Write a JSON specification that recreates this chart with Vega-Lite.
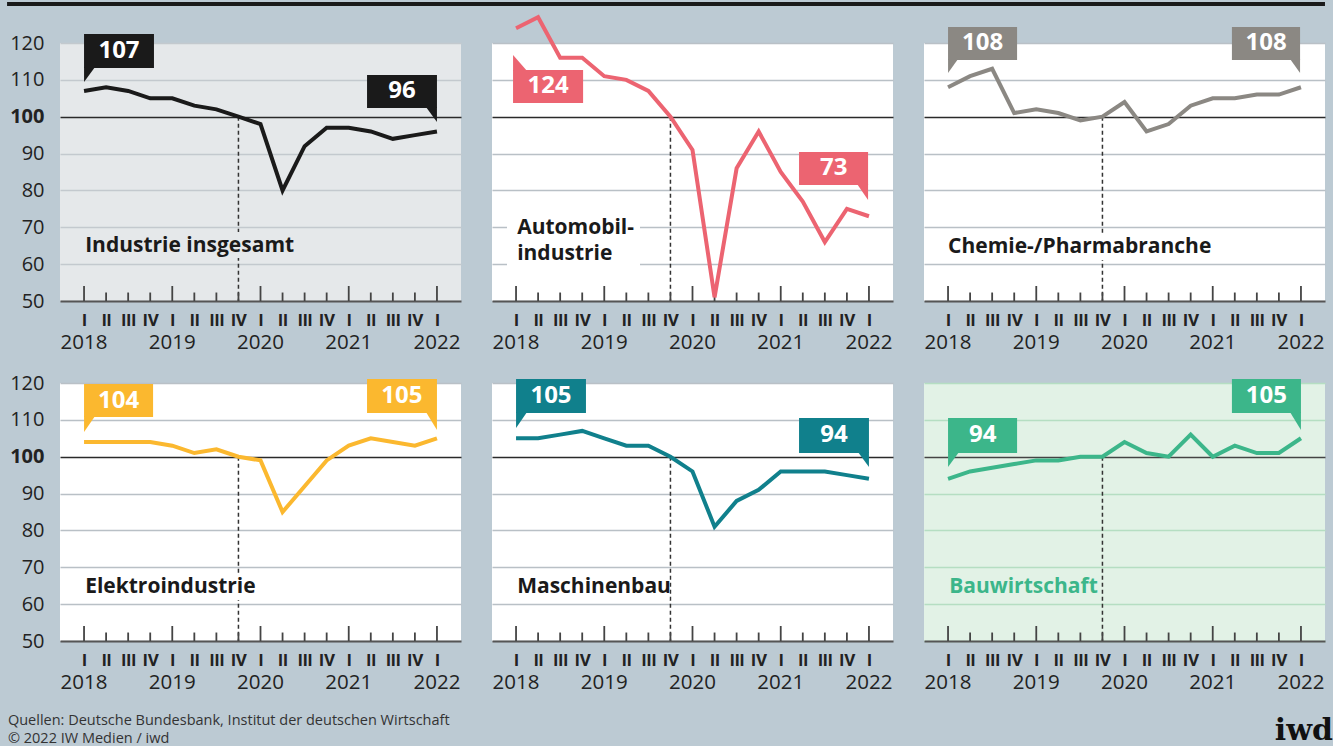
{
"$schema": "https://vega.github.io/schema/vega-lite/v6.json",
"background": "#bccad3",
"padding": {"left": 5, "top": 2, "right": 0, "bottom": 0},
"config": {"view": {"stroke": null}, "text": {"font": "Open Sans"}},
"datasets": {
"vals": [
{"s":"ind","i":0,"v":107},{"s":"ind","i":1,"v":108},{"s":"ind","i":2,"v":107},{"s":"ind","i":3,"v":105},{"s":"ind","i":4,"v":105},{"s":"ind","i":5,"v":103},{"s":"ind","i":6,"v":102},{"s":"ind","i":7,"v":100},{"s":"ind","i":8,"v":98},{"s":"ind","i":9,"v":80},{"s":"ind","i":10,"v":92},{"s":"ind","i":11,"v":97},{"s":"ind","i":12,"v":97},{"s":"ind","i":13,"v":96},{"s":"ind","i":14,"v":94},{"s":"ind","i":15,"v":95},{"s":"ind","i":16,"v":96},
{"s":"auto","i":0,"v":124},{"s":"auto","i":1,"v":127},{"s":"auto","i":2,"v":116},{"s":"auto","i":3,"v":116},{"s":"auto","i":4,"v":111},{"s":"auto","i":5,"v":110},{"s":"auto","i":6,"v":107},{"s":"auto","i":7,"v":100},{"s":"auto","i":8,"v":91},{"s":"auto","i":9,"v":51},{"s":"auto","i":10,"v":86},{"s":"auto","i":11,"v":96},{"s":"auto","i":12,"v":85},{"s":"auto","i":13,"v":77},{"s":"auto","i":14,"v":66},{"s":"auto","i":15,"v":75},{"s":"auto","i":16,"v":73},
{"s":"chem","i":0,"v":108},{"s":"chem","i":1,"v":111},{"s":"chem","i":2,"v":113},{"s":"chem","i":3,"v":101},{"s":"chem","i":4,"v":102},{"s":"chem","i":5,"v":101},{"s":"chem","i":6,"v":99},{"s":"chem","i":7,"v":100},{"s":"chem","i":8,"v":104},{"s":"chem","i":9,"v":96},{"s":"chem","i":10,"v":98},{"s":"chem","i":11,"v":103},{"s":"chem","i":12,"v":105},{"s":"chem","i":13,"v":105},{"s":"chem","i":14,"v":106},{"s":"chem","i":15,"v":106},{"s":"chem","i":16,"v":108},
{"s":"elek","i":0,"v":104},{"s":"elek","i":1,"v":104},{"s":"elek","i":2,"v":104},{"s":"elek","i":3,"v":104},{"s":"elek","i":4,"v":103},{"s":"elek","i":5,"v":101},{"s":"elek","i":6,"v":102},{"s":"elek","i":7,"v":100},{"s":"elek","i":8,"v":99},{"s":"elek","i":9,"v":85},{"s":"elek","i":10,"v":92},{"s":"elek","i":11,"v":99},{"s":"elek","i":12,"v":103},{"s":"elek","i":13,"v":105},{"s":"elek","i":14,"v":104},{"s":"elek","i":15,"v":103},{"s":"elek","i":16,"v":105},
{"s":"masch","i":0,"v":105},{"s":"masch","i":1,"v":105},{"s":"masch","i":2,"v":106},{"s":"masch","i":3,"v":107},{"s":"masch","i":4,"v":105},{"s":"masch","i":5,"v":103},{"s":"masch","i":6,"v":103},{"s":"masch","i":7,"v":100},{"s":"masch","i":8,"v":96},{"s":"masch","i":9,"v":81},{"s":"masch","i":10,"v":88},{"s":"masch","i":11,"v":91},{"s":"masch","i":12,"v":96},{"s":"masch","i":13,"v":96},{"s":"masch","i":14,"v":96},{"s":"masch","i":15,"v":95},{"s":"masch","i":16,"v":94},
{"s":"bau","i":0,"v":94},{"s":"bau","i":1,"v":96},{"s":"bau","i":2,"v":97},{"s":"bau","i":3,"v":98},{"s":"bau","i":4,"v":99},{"s":"bau","i":5,"v":99},{"s":"bau","i":6,"v":100},{"s":"bau","i":7,"v":100},{"s":"bau","i":8,"v":104},{"s":"bau","i":9,"v":101},{"s":"bau","i":10,"v":100},{"s":"bau","i":11,"v":106},{"s":"bau","i":12,"v":100},{"s":"bau","i":13,"v":103},{"s":"bau","i":14,"v":101},{"s":"bau","i":15,"v":101},{"s":"bau","i":16,"v":105}
],
"qtr": [
{"i":0,"q":"I","year":"2018"},{"i":1,"q":"II","year":"2018"},{"i":2,"q":"III","year":"2018"},{"i":3,"q":"IV","year":"2018"},
{"i":4,"q":"I","year":"2019"},{"i":5,"q":"II","year":"2019"},{"i":6,"q":"III","year":"2019"},{"i":7,"q":"IV","year":"2019"},
{"i":8,"q":"I","year":"2020"},{"i":9,"q":"II","year":"2020"},{"i":10,"q":"III","year":"2020"},{"i":11,"q":"IV","year":"2020"},
{"i":12,"q":"I","year":"2021"},{"i":13,"q":"II","year":"2021"},{"i":14,"q":"III","year":"2021"},{"i":15,"q":"IV","year":"2021"},
{"i":16,"q":"I","year":"2022"}
]
},
"columns": 3,
"spacing": {"row": 82, "column": 31},
"bounds": "flush",
"concat": [
{
"width": 401, "height": 258,
"view": {"fill": "#e5e8ea", "stroke": null},
"resolve": {"axis": {"x": "independent", "y": "independent"}},
"layer": [
{"data": {"values": [{}]}, "mark": {"type": "rule", "color": "#1a1a1a", "strokeWidth": 4}, "encoding": {"x": {"datum": -3.49, "type": "quantitative", "axis": null}, "x2": {"datum": 56.26}, "y": {"datum": 130.58, "type": "quantitative", "axis": null}}},
{"data": {"values": [{}]}, "mark": {"type": "rule", "color": "#333", "strokeWidth": 1.5, "strokeDash": [4, 3]}, "encoding": {"x": {"datum": 7, "type": "quantitative", "axis": null}, "y": {"datum": 100, "type": "quantitative", "axis": null}, "y2": {"datum": 50}}},
{"data": {"values": [{}]}, "mark": {"type": "rect", "color": "#e5e8ea"}, "encoding": {"x": {"datum": -0.27, "type": "quantitative", "axis": null}, "x2": {"datum": 9.8}, "y": {"datum": 68.72, "type": "quantitative", "axis": null}, "y2": {"datum": 61.67}}},
{"data": {"values": [{}]}, "mark": {"type": "text", "text": "Industrie insgesamt", "align": "left", "baseline": "middle", "font": "Open Sans", "fontSize": 21, "fontWeight": "bold", "color": "#1a1a1a"}, "encoding": {"x": {"datum": 0.05, "type": "quantitative", "axis": null}, "y": {"datum": 65, "type": "quantitative", "axis": null}}},
{"data": {"name": "qtr"}, "transform": [{"filter": "datum.q === 'I'"}], "mark": {"type": "rule", "color": "#444", "strokeWidth": 1.8}, "encoding": {"x": {"field": "i", "type": "quantitative", "axis": null}, "y": {"datum": 50, "type": "quantitative", "axis": null}, "y2": {"datum": 54.07}}},
{"data": {"name": "qtr"}, "transform": [{"filter": "datum.q !== 'I'"}], "mark": {"type": "rule", "color": "#444", "strokeWidth": 1.8}, "encoding": {"x": {"field": "i", "type": "quantitative", "axis": null}, "y": {"datum": 50, "type": "quantitative", "axis": null}, "y2": {"datum": 52.3}}},
{"data": {"name": "vals"}, "transform": [{"filter": "datum.s === 'ind'"}], "mark": {"type": "line", "color": "#1a1a1a", "strokeWidth": 4, "strokeJoin": "miter"},
 "encoding": {
  "x": {"field": "i", "type": "quantitative", "scale": {"domain": [-1.09, 17.09], "nice": false, "zero": false}, "axis": {"orient": "bottom", "values": [0,1,2,3,4,5,6,7,8,9,10,11,12,13,14,15,16], "labelExpr": "['I','II','III','IV'][datum.value % 4]", "labelFont": "Roboto", "labelFontSize": 17, "labelFontWeight": "bold", "labelColor": "#222", "labelPadding": 19, "labelBaseline": "middle", "labelFlush": false, "labelOverlap": false, "labelBound": false, "ticks": false, "tickSize": 0, "grid": false, "domain": true, "domainColor": "#555", "domainWidth": 2, "title": null}},
  "y": {"field": "v", "type": "quantitative", "scale": {"domain": [50, 120], "nice": false, "zero": false}, "axis": {"orient": "left", "values": [50,60,70,80,90,100,110,120], "grid": true, "gridColor": {"condition": {"test": "datum.value === 100", "value": "#2a2a2a"}, "value": "#c3c9ce"}, "gridWidth": 1.5, "domain": false, "ticks": false, "tickSize": 0, "labels": true, "labelFont": "Open Sans", "labelFontSize": 20, "labelColor": "#222", "labelPadding": 16, "labelFontWeight": {"condition": {"test": "datum.value === 100", "value": "bold"}, "value": "normal"}, "title": null}}
 }},
{"data": {"values": [{}]}, "mark": {"type": "rect", "color": "#1a1a1a"}, "encoding": {"x": {"datum": 0, "type": "quantitative", "axis": null}, "x2": {"datum": 3.17}, "y": {"datum": 122.44, "type": "quantitative", "axis": null}, "y2": {"datum": 113.22}}},
{"data": {"values": [{}]}, "mark": {"type": "point", "shape": "M0,-1L0,14L11,-1Z", "size": 4, "filled": true, "opacity": 1, "color": "#1a1a1a"}, "encoding": {"x": {"datum": 0, "type": "quantitative", "axis": null}, "y": {"datum": 113.22, "type": "quantitative", "axis": null}}},
{"data": {"values": [{}]}, "mark": {"type": "text", "text": "107", "font": "Open Sans", "fontSize": 24, "fontWeight": "bold", "color": "#ffffff", "align": "center", "baseline": "middle"}, "encoding": {"x": {"datum": 1.585, "type": "quantitative", "axis": null}, "y": {"datum": 117.83, "type": "quantitative", "axis": null}}},
{"data": {"values": [{}]}, "mark": {"type": "rect", "color": "#1a1a1a"}, "encoding": {"x": {"datum": 12.83, "type": "quantitative", "axis": null}, "x2": {"datum": 16}, "y": {"datum": 111.32, "type": "quantitative", "axis": null}, "y2": {"datum": 102.37}}},
{"data": {"values": [{}]}, "mark": {"type": "point", "shape": "M0,-1L0,14L-11,-1Z", "size": 4, "filled": true, "opacity": 1, "color": "#1a1a1a"}, "encoding": {"x": {"datum": 16, "type": "quantitative", "axis": null}, "y": {"datum": 102.37, "type": "quantitative", "axis": null}}},
{"data": {"values": [{}]}, "mark": {"type": "text", "text": "96", "font": "Open Sans", "fontSize": 24, "fontWeight": "bold", "color": "#ffffff", "align": "center", "baseline": "middle"}, "encoding": {"x": {"datum": 14.41, "type": "quantitative", "axis": null}, "y": {"datum": 106.85, "type": "quantitative", "axis": null}}},
{"data": {"name": "qtr"}, "transform": [{"filter": "datum.q === 'I'"}], "mark": {"type": "text", "dy": 42, "font": "Open Sans", "fontSize": 20.5, "color": "#222", "align": "center", "baseline": "middle"}, "encoding": {"x": {"field": "i", "type": "quantitative", "axis": null}, "y": {"datum": 50, "type": "quantitative", "axis": null}, "text": {"field": "year"}}}
]
},
{
"width": 401, "height": 258,
"view": {"fill": "#ffffff", "stroke": null},
"resolve": {"axis": {"x": "independent", "y": "independent"}},
"layer": [
{"data": {"values": [{}]}, "mark": {"type": "rule", "color": "#333", "strokeWidth": 1.5, "strokeDash": [4, 3]}, "encoding": {"x": {"datum": 7, "type": "quantitative", "axis": null}, "y": {"datum": 100, "type": "quantitative", "axis": null}, "y2": {"datum": 50}}},
{"data": {"values": [{}]}, "mark": {"type": "rect", "color": "#ffffff"}, "encoding": {"x": {"datum": -0.41, "type": "quantitative", "axis": null}, "x2": {"datum": 5.62}, "y": {"datum": 73.34, "type": "quantitative", "axis": null}, "y2": {"datum": 58.96}}},
{"data": {"values": [{}]}, "mark": {"type": "text", "text": ["Automobil-", "industrie"], "lineHeight": 26, "align": "left", "baseline": "middle", "font": "Open Sans", "fontSize": 21, "fontWeight": "bold", "color": "#1a1a1a"}, "encoding": {"x": {"datum": 0.05, "type": "quantitative", "axis": null}, "y": {"datum": 69.81, "type": "quantitative", "axis": null}}},
{"data": {"name": "qtr"}, "transform": [{"filter": "datum.q === 'I'"}], "mark": {"type": "rule", "color": "#444", "strokeWidth": 1.8}, "encoding": {"x": {"field": "i", "type": "quantitative", "axis": null}, "y": {"datum": 50, "type": "quantitative", "axis": null}, "y2": {"datum": 54.07}}},
{"data": {"name": "qtr"}, "transform": [{"filter": "datum.q !== 'I'"}], "mark": {"type": "rule", "color": "#444", "strokeWidth": 1.8}, "encoding": {"x": {"field": "i", "type": "quantitative", "axis": null}, "y": {"datum": 50, "type": "quantitative", "axis": null}, "y2": {"datum": 52.3}}},
{"data": {"name": "vals"}, "transform": [{"filter": "datum.s === 'auto'"}], "mark": {"type": "line", "color": "#ec6471", "strokeWidth": 4, "strokeJoin": "miter"},
 "encoding": {
  "x": {"field": "i", "type": "quantitative", "scale": {"domain": [-1.09, 17.09], "nice": false, "zero": false}, "axis": {"orient": "bottom", "values": [0,1,2,3,4,5,6,7,8,9,10,11,12,13,14,15,16], "labelExpr": "['I','II','III','IV'][datum.value % 4]", "labelFont": "Roboto", "labelFontSize": 17, "labelFontWeight": "bold", "labelColor": "#222", "labelPadding": 19, "labelBaseline": "middle", "labelFlush": false, "labelOverlap": false, "labelBound": false, "ticks": false, "tickSize": 0, "grid": false, "domain": true, "domainColor": "#555", "domainWidth": 2, "title": null}},
  "y": {"field": "v", "type": "quantitative", "scale": {"domain": [50, 120], "nice": false, "zero": false}, "axis": {"orient": "left", "values": [50,60,70,80,90,100,110,120], "grid": true, "gridColor": {"condition": {"test": "datum.value === 100", "value": "#2a2a2a"}, "value": "#b9c0c6"}, "gridWidth": 1.5, "domain": false, "ticks": false, "tickSize": 0, "labels": false, "title": null}}
 }},
{"data": {"values": [{}]}, "mark": {"type": "rect", "color": "#ec6471"}, "encoding": {"x": {"datum": -0.136, "type": "quantitative", "axis": null}, "x2": {"datum": 3.04}, "y": {"datum": 112.67, "type": "quantitative", "axis": null}, "y2": {"datum": 103.72}}},
{"data": {"values": [{}]}, "mark": {"type": "point", "shape": "M0,1L0,-15L14,1Z", "size": 4, "filled": true, "opacity": 1, "color": "#ec6471"}, "encoding": {"x": {"datum": -0.136, "type": "quantitative", "axis": null}, "y": {"datum": 112.67, "type": "quantitative", "axis": null}}},
{"data": {"values": [{}]}, "mark": {"type": "text", "text": "124", "font": "Open Sans", "fontSize": 24, "fontWeight": "bold", "color": "#ffffff", "align": "center", "baseline": "middle"}, "encoding": {"x": {"datum": 1.45, "type": "quantitative", "axis": null}, "y": {"datum": 108.2, "type": "quantitative", "axis": null}}},
{"data": {"values": [{}]}, "mark": {"type": "rect", "color": "#ec6471"}, "encoding": {"x": {"datum": 12.83, "type": "quantitative", "axis": null}, "x2": {"datum": 15.96}, "y": {"datum": 90.43, "type": "quantitative", "axis": null}, "y2": {"datum": 81.48}}},
{"data": {"values": [{}]}, "mark": {"type": "point", "shape": "M0,-1L0,15L-11,-1Z", "size": 4, "filled": true, "opacity": 1, "color": "#ec6471"}, "encoding": {"x": {"datum": 15.96, "type": "quantitative", "axis": null}, "y": {"datum": 81.48, "type": "quantitative", "axis": null}}},
{"data": {"values": [{}]}, "mark": {"type": "text", "text": "73", "font": "Open Sans", "fontSize": 24, "fontWeight": "bold", "color": "#ffffff", "align": "center", "baseline": "middle"}, "encoding": {"x": {"datum": 14.4, "type": "quantitative", "axis": null}, "y": {"datum": 85.96, "type": "quantitative", "axis": null}}},
{"data": {"name": "qtr"}, "transform": [{"filter": "datum.q === 'I'"}], "mark": {"type": "text", "dy": 42, "font": "Open Sans", "fontSize": 20.5, "color": "#222", "align": "center", "baseline": "middle"}, "encoding": {"x": {"field": "i", "type": "quantitative", "axis": null}, "y": {"datum": 50, "type": "quantitative", "axis": null}, "text": {"field": "year"}}}
]
},
{
"width": 401, "height": 258,
"view": {"fill": "#ffffff", "stroke": null},
"resolve": {"axis": {"x": "independent", "y": "independent"}},
"layer": [
{"data": {"values": [{}]}, "mark": {"type": "rule", "color": "#333", "strokeWidth": 1.5, "strokeDash": [4, 3]}, "encoding": {"x": {"datum": 7, "type": "quantitative", "axis": null}, "y": {"datum": 100, "type": "quantitative", "axis": null}, "y2": {"datum": 50}}},
{"data": {"values": [{}]}, "mark": {"type": "rect", "color": "#ffffff"}, "encoding": {"x": {"datum": -0.27, "type": "quantitative", "axis": null}, "x2": {"datum": 12.6}, "y": {"datum": 68.18, "type": "quantitative", "axis": null}, "y2": {"datum": 61.13}}},
{"data": {"values": [{}]}, "mark": {"type": "text", "text": "Chemie-/Pharmabranche", "align": "left", "baseline": "middle", "font": "Open Sans", "fontSize": 21, "fontWeight": "bold", "color": "#1a1a1a"}, "encoding": {"x": {"datum": 0, "type": "quantitative", "axis": null}, "y": {"datum": 64.66, "type": "quantitative", "axis": null}}},
{"data": {"name": "qtr"}, "transform": [{"filter": "datum.q === 'I'"}], "mark": {"type": "rule", "color": "#444", "strokeWidth": 1.8}, "encoding": {"x": {"field": "i", "type": "quantitative", "axis": null}, "y": {"datum": 50, "type": "quantitative", "axis": null}, "y2": {"datum": 54.07}}},
{"data": {"name": "qtr"}, "transform": [{"filter": "datum.q !== 'I'"}], "mark": {"type": "rule", "color": "#444", "strokeWidth": 1.8}, "encoding": {"x": {"field": "i", "type": "quantitative", "axis": null}, "y": {"datum": 50, "type": "quantitative", "axis": null}, "y2": {"datum": 52.3}}},
{"data": {"name": "vals"}, "transform": [{"filter": "datum.s === 'chem'"}], "mark": {"type": "line", "color": "#8b8883", "strokeWidth": 4, "strokeJoin": "miter"},
 "encoding": {
  "x": {"field": "i", "type": "quantitative", "scale": {"domain": [-1.09, 17.09], "nice": false, "zero": false}, "axis": {"orient": "bottom", "values": [0,1,2,3,4,5,6,7,8,9,10,11,12,13,14,15,16], "labelExpr": "['I','II','III','IV'][datum.value % 4]", "labelFont": "Roboto", "labelFontSize": 17, "labelFontWeight": "bold", "labelColor": "#222", "labelPadding": 19, "labelBaseline": "middle", "labelFlush": false, "labelOverlap": false, "labelBound": false, "ticks": false, "tickSize": 0, "grid": false, "domain": true, "domainColor": "#555", "domainWidth": 2, "title": null}},
  "y": {"field": "v", "type": "quantitative", "scale": {"domain": [50, 120], "nice": false, "zero": false}, "axis": {"orient": "left", "values": [50,60,70,80,90,100,110,120], "grid": true, "gridColor": {"condition": {"test": "datum.value === 100", "value": "#2a2a2a"}, "value": "#b9c0c6"}, "gridWidth": 1.5, "domain": false, "ticks": false, "tickSize": 0, "labels": false, "title": null}}
 }},
{"data": {"values": [{}]}, "mark": {"type": "rect", "color": "#8b8883"}, "encoding": {"x": {"datum": 0, "type": "quantitative", "axis": null}, "x2": {"datum": 3.13}, "y": {"datum": 124.34, "type": "quantitative", "axis": null}, "y2": {"datum": 115.39}}},
{"data": {"values": [{}]}, "mark": {"type": "point", "shape": "M0,-1L0,13L10,-1Z", "size": 4, "filled": true, "opacity": 1, "color": "#8b8883"}, "encoding": {"x": {"datum": 0, "type": "quantitative", "axis": null}, "y": {"datum": 115.39, "type": "quantitative", "axis": null}}},
{"data": {"values": [{}]}, "mark": {"type": "text", "text": "108", "font": "Open Sans", "fontSize": 24, "fontWeight": "bold", "color": "#ffffff", "align": "center", "baseline": "middle"}, "encoding": {"x": {"datum": 1.57, "type": "quantitative", "axis": null}, "y": {"datum": 119.87, "type": "quantitative", "axis": null}}},
{"data": {"values": [{}]}, "mark": {"type": "rect", "color": "#8b8883"}, "encoding": {"x": {"datum": 12.87, "type": "quantitative", "axis": null}, "x2": {"datum": 15.96}, "y": {"datum": 124.34, "type": "quantitative", "axis": null}, "y2": {"datum": 115.39}}},
{"data": {"values": [{}]}, "mark": {"type": "point", "shape": "M0,-1L0,13L-10,-1Z", "size": 4, "filled": true, "opacity": 1, "color": "#8b8883"}, "encoding": {"x": {"datum": 15.96, "type": "quantitative", "axis": null}, "y": {"datum": 115.39, "type": "quantitative", "axis": null}}},
{"data": {"values": [{}]}, "mark": {"type": "text", "text": "108", "font": "Open Sans", "fontSize": 24, "fontWeight": "bold", "color": "#ffffff", "align": "center", "baseline": "middle"}, "encoding": {"x": {"datum": 14.42, "type": "quantitative", "axis": null}, "y": {"datum": 119.87, "type": "quantitative", "axis": null}}},
{"data": {"name": "qtr"}, "transform": [{"filter": "datum.q === 'I'"}], "mark": {"type": "text", "dy": 42, "font": "Open Sans", "fontSize": 20.5, "color": "#222", "align": "center", "baseline": "middle"}, "encoding": {"x": {"field": "i", "type": "quantitative", "axis": null}, "y": {"datum": 50, "type": "quantitative", "axis": null}, "text": {"field": "year"}}}
]
},
{
"width": 401, "height": 258,
"view": {"fill": "#ffffff", "stroke": null},
"resolve": {"axis": {"x": "independent", "y": "independent"}},
"layer": [
{"data": {"values": [{}]}, "mark": {"type": "rule", "color": "#333", "strokeWidth": 1.5, "strokeDash": [4, 3]}, "encoding": {"x": {"datum": 7, "type": "quantitative", "axis": null}, "y": {"datum": 100, "type": "quantitative", "axis": null}, "y2": {"datum": 50}}},
{"data": {"values": [{}]}, "mark": {"type": "rect", "color": "#ffffff"}, "encoding": {"x": {"datum": -0.27, "type": "quantitative", "axis": null}, "x2": {"datum": 8.4}, "y": {"datum": 68.18, "type": "quantitative", "axis": null}, "y2": {"datum": 61.13}}},
{"data": {"values": [{}]}, "mark": {"type": "text", "text": "Elektroindustrie", "align": "left", "baseline": "middle", "font": "Open Sans", "fontSize": 21, "fontWeight": "bold", "color": "#1a1a1a"}, "encoding": {"x": {"datum": 0.05, "type": "quantitative", "axis": null}, "y": {"datum": 64.66, "type": "quantitative", "axis": null}}},
{"data": {"name": "qtr"}, "transform": [{"filter": "datum.q === 'I'"}], "mark": {"type": "rule", "color": "#444", "strokeWidth": 1.8}, "encoding": {"x": {"field": "i", "type": "quantitative", "axis": null}, "y": {"datum": 50, "type": "quantitative", "axis": null}, "y2": {"datum": 54.07}}},
{"data": {"name": "qtr"}, "transform": [{"filter": "datum.q !== 'I'"}], "mark": {"type": "rule", "color": "#444", "strokeWidth": 1.8}, "encoding": {"x": {"field": "i", "type": "quantitative", "axis": null}, "y": {"datum": 50, "type": "quantitative", "axis": null}, "y2": {"datum": 52.3}}},
{"data": {"name": "vals"}, "transform": [{"filter": "datum.s === 'elek'"}], "mark": {"type": "line", "color": "#fbb82f", "strokeWidth": 4, "strokeJoin": "miter"},
 "encoding": {
  "x": {"field": "i", "type": "quantitative", "scale": {"domain": [-1.09, 17.09], "nice": false, "zero": false}, "axis": {"orient": "bottom", "values": [0,1,2,3,4,5,6,7,8,9,10,11,12,13,14,15,16], "labelExpr": "['I','II','III','IV'][datum.value % 4]", "labelFont": "Roboto", "labelFontSize": 17, "labelFontWeight": "bold", "labelColor": "#222", "labelPadding": 19, "labelBaseline": "middle", "labelFlush": false, "labelOverlap": false, "labelBound": false, "ticks": false, "tickSize": 0, "grid": false, "domain": true, "domainColor": "#555", "domainWidth": 2, "title": null}},
  "y": {"field": "v", "type": "quantitative", "scale": {"domain": [50, 120], "nice": false, "zero": false}, "axis": {"orient": "left", "values": [50,60,70,80,90,100,110,120], "grid": true, "gridColor": {"condition": {"test": "datum.value === 100", "value": "#2a2a2a"}, "value": "#b9c0c6"}, "gridWidth": 1.5, "domain": false, "ticks": false, "tickSize": 0, "labels": true, "labelFont": "Open Sans", "labelFontSize": 20, "labelColor": "#222", "labelPadding": 16, "labelFontWeight": {"condition": {"test": "datum.value === 100", "value": "bold"}, "value": "normal"}, "title": null}}
 }},
{"data": {"values": [{}]}, "mark": {"type": "rect", "color": "#fbb82f"}, "encoding": {"x": {"datum": 0, "type": "quantitative", "axis": null}, "x2": {"datum": 3.13}, "y": {"datum": 119.73, "type": "quantitative", "axis": null}, "y2": {"datum": 110.78}}},
{"data": {"values": [{}]}, "mark": {"type": "point", "shape": "M0,-1L0,15L11,-1Z", "size": 4, "filled": true, "opacity": 1, "color": "#fbb82f"}, "encoding": {"x": {"datum": 0, "type": "quantitative", "axis": null}, "y": {"datum": 110.78, "type": "quantitative", "axis": null}}},
{"data": {"values": [{}]}, "mark": {"type": "text", "text": "104", "font": "Open Sans", "fontSize": 24, "fontWeight": "bold", "color": "#ffffff", "align": "center", "baseline": "middle"}, "encoding": {"x": {"datum": 1.57, "type": "quantitative", "axis": null}, "y": {"datum": 115.25, "type": "quantitative", "axis": null}}},
{"data": {"values": [{}]}, "mark": {"type": "rect", "color": "#fbb82f"}, "encoding": {"x": {"datum": 12.83, "type": "quantitative", "axis": null}, "x2": {"datum": 16}, "y": {"datum": 121.09, "type": "quantitative", "axis": null}, "y2": {"datum": 111.86}}},
{"data": {"values": [{}]}, "mark": {"type": "point", "shape": "M0,-1L0,17L-11,-1Z", "size": 4, "filled": true, "opacity": 1, "color": "#fbb82f"}, "encoding": {"x": {"datum": 16, "type": "quantitative", "axis": null}, "y": {"datum": 111.86, "type": "quantitative", "axis": null}}},
{"data": {"values": [{}]}, "mark": {"type": "text", "text": "105", "font": "Open Sans", "fontSize": 24, "fontWeight": "bold", "color": "#ffffff", "align": "center", "baseline": "middle"}, "encoding": {"x": {"datum": 14.41, "type": "quantitative", "axis": null}, "y": {"datum": 116.47, "type": "quantitative", "axis": null}}},
{"data": {"name": "qtr"}, "transform": [{"filter": "datum.q === 'I'"}], "mark": {"type": "text", "dy": 42, "font": "Open Sans", "fontSize": 20.5, "color": "#222", "align": "center", "baseline": "middle"}, "encoding": {"x": {"field": "i", "type": "quantitative", "axis": null}, "y": {"datum": 50, "type": "quantitative", "axis": null}, "text": {"field": "year"}}},
{"data": {"values": [{}]}, "mark": {"type": "text", "text": ["Quellen: Deutsche Bundesbank, Institut der deutschen Wirtschaft", "© 2022 IW Medien / iwd"], "lineHeight": 18, "align": "left", "baseline": "middle", "font": "Open Sans", "fontSize": 14.5, "color": "#333"}, "encoding": {"x": {"datum": -3.45, "type": "quantitative", "axis": null}, "y": {"datum": 28.3, "type": "quantitative", "axis": null}}}
]
},
{
"width": 401, "height": 258,
"view": {"fill": "#ffffff", "stroke": null},
"resolve": {"axis": {"x": "independent", "y": "independent"}},
"layer": [
{"data": {"values": [{}]}, "mark": {"type": "rule", "color": "#333", "strokeWidth": 1.5, "strokeDash": [4, 3]}, "encoding": {"x": {"datum": 7, "type": "quantitative", "axis": null}, "y": {"datum": 100, "type": "quantitative", "axis": null}, "y2": {"datum": 50}}},
{"data": {"values": [{}]}, "mark": {"type": "rect", "color": "#ffffff"}, "encoding": {"x": {"datum": -0.27, "type": "quantitative", "axis": null}, "x2": {"datum": 6.95}, "y": {"datum": 68.18, "type": "quantitative", "axis": null}, "y2": {"datum": 61.13}}},
{"data": {"values": [{}]}, "mark": {"type": "text", "text": "Maschinenbau", "align": "left", "baseline": "middle", "font": "Open Sans", "fontSize": 21, "fontWeight": "bold", "color": "#1a1a1a"}, "encoding": {"x": {"datum": 0.05, "type": "quantitative", "axis": null}, "y": {"datum": 64.66, "type": "quantitative", "axis": null}}},
{"data": {"name": "qtr"}, "transform": [{"filter": "datum.q === 'I'"}], "mark": {"type": "rule", "color": "#444", "strokeWidth": 1.8}, "encoding": {"x": {"field": "i", "type": "quantitative", "axis": null}, "y": {"datum": 50, "type": "quantitative", "axis": null}, "y2": {"datum": 54.07}}},
{"data": {"name": "qtr"}, "transform": [{"filter": "datum.q !== 'I'"}], "mark": {"type": "rule", "color": "#444", "strokeWidth": 1.8}, "encoding": {"x": {"field": "i", "type": "quantitative", "axis": null}, "y": {"datum": 50, "type": "quantitative", "axis": null}, "y2": {"datum": 52.3}}},
{"data": {"name": "vals"}, "transform": [{"filter": "datum.s === 'masch'"}], "mark": {"type": "line", "color": "#10808c", "strokeWidth": 4, "strokeJoin": "miter"},
 "encoding": {
  "x": {"field": "i", "type": "quantitative", "scale": {"domain": [-1.09, 17.09], "nice": false, "zero": false}, "axis": {"orient": "bottom", "values": [0,1,2,3,4,5,6,7,8,9,10,11,12,13,14,15,16], "labelExpr": "['I','II','III','IV'][datum.value % 4]", "labelFont": "Roboto", "labelFontSize": 17, "labelFontWeight": "bold", "labelColor": "#222", "labelPadding": 19, "labelBaseline": "middle", "labelFlush": false, "labelOverlap": false, "labelBound": false, "ticks": false, "tickSize": 0, "grid": false, "domain": true, "domainColor": "#555", "domainWidth": 2, "title": null}},
  "y": {"field": "v", "type": "quantitative", "scale": {"domain": [50, 120], "nice": false, "zero": false}, "axis": {"orient": "left", "values": [50,60,70,80,90,100,110,120], "grid": true, "gridColor": {"condition": {"test": "datum.value === 100", "value": "#2a2a2a"}, "value": "#b9c0c6"}, "gridWidth": 1.5, "domain": false, "ticks": false, "tickSize": 0, "labels": false, "title": null}}
 }},
{"data": {"values": [{}]}, "mark": {"type": "rect", "color": "#10808c"}, "encoding": {"x": {"datum": 0, "type": "quantitative", "axis": null}, "x2": {"datum": 3.17}, "y": {"datum": 121.09, "type": "quantitative", "axis": null}, "y2": {"datum": 111.86}}},
{"data": {"values": [{}]}, "mark": {"type": "point", "shape": "M0,-1L0,15L11,-1Z", "size": 4, "filled": true, "opacity": 1, "color": "#10808c"}, "encoding": {"x": {"datum": 0, "type": "quantitative", "axis": null}, "y": {"datum": 111.86, "type": "quantitative", "axis": null}}},
{"data": {"values": [{}]}, "mark": {"type": "text", "text": "105", "font": "Open Sans", "fontSize": 24, "fontWeight": "bold", "color": "#ffffff", "align": "center", "baseline": "middle"}, "encoding": {"x": {"datum": 1.585, "type": "quantitative", "axis": null}, "y": {"datum": 116.47, "type": "quantitative", "axis": null}}},
{"data": {"values": [{}]}, "mark": {"type": "rect", "color": "#10808c"}, "encoding": {"x": {"datum": 12.83, "type": "quantitative", "axis": null}, "x2": {"datum": 16}, "y": {"datum": 110.5, "type": "quantitative", "axis": null}, "y2": {"datum": 101.01}}},
{"data": {"values": [{}]}, "mark": {"type": "point", "shape": "M0,-1L0,14L-11,-1Z", "size": 4, "filled": true, "opacity": 1, "color": "#10808c"}, "encoding": {"x": {"datum": 16, "type": "quantitative", "axis": null}, "y": {"datum": 101.01, "type": "quantitative", "axis": null}}},
{"data": {"values": [{}]}, "mark": {"type": "text", "text": "94", "font": "Open Sans", "fontSize": 24, "fontWeight": "bold", "color": "#ffffff", "align": "center", "baseline": "middle"}, "encoding": {"x": {"datum": 14.41, "type": "quantitative", "axis": null}, "y": {"datum": 105.76, "type": "quantitative", "axis": null}}},
{"data": {"name": "qtr"}, "transform": [{"filter": "datum.q === 'I'"}], "mark": {"type": "text", "dy": 42, "font": "Open Sans", "fontSize": 20.5, "color": "#222", "align": "center", "baseline": "middle"}, "encoding": {"x": {"field": "i", "type": "quantitative", "axis": null}, "y": {"datum": 50, "type": "quantitative", "axis": null}, "text": {"field": "year"}}}
]
},
{
"width": 401, "height": 258,
"view": {"fill": "#e2f2e6", "stroke": null},
"resolve": {"axis": {"x": "independent", "y": "independent"}},
"layer": [
{"data": {"values": [{}]}, "mark": {"type": "rule", "color": "#333", "strokeWidth": 1.5, "strokeDash": [4, 3]}, "encoding": {"x": {"datum": 7, "type": "quantitative", "axis": null}, "y": {"datum": 100, "type": "quantitative", "axis": null}, "y2": {"datum": 50}}},
{"data": {"values": [{}]}, "mark": {"type": "rect", "color": "#e2f2e6"}, "encoding": {"x": {"datum": -0.27, "type": "quantitative", "axis": null}, "x2": {"datum": 6.8}, "y": {"datum": 68.18, "type": "quantitative", "axis": null}, "y2": {"datum": 61.13}}},
{"data": {"values": [{}]}, "mark": {"type": "text", "text": "Bauwirtschaft", "align": "left", "baseline": "middle", "font": "Open Sans", "fontSize": 21, "fontWeight": "bold", "color": "#3cb68a"}, "encoding": {"x": {"datum": 0.05, "type": "quantitative", "axis": null}, "y": {"datum": 64.66, "type": "quantitative", "axis": null}}},
{"data": {"name": "qtr"}, "transform": [{"filter": "datum.q === 'I'"}], "mark": {"type": "rule", "color": "#444", "strokeWidth": 1.8}, "encoding": {"x": {"field": "i", "type": "quantitative", "axis": null}, "y": {"datum": 50, "type": "quantitative", "axis": null}, "y2": {"datum": 54.07}}},
{"data": {"name": "qtr"}, "transform": [{"filter": "datum.q !== 'I'"}], "mark": {"type": "rule", "color": "#444", "strokeWidth": 1.8}, "encoding": {"x": {"field": "i", "type": "quantitative", "axis": null}, "y": {"datum": 50, "type": "quantitative", "axis": null}, "y2": {"datum": 52.3}}},
{"data": {"name": "vals"}, "transform": [{"filter": "datum.s === 'bau'"}], "mark": {"type": "line", "color": "#3cb68a", "strokeWidth": 4, "strokeJoin": "miter"},
 "encoding": {
  "x": {"field": "i", "type": "quantitative", "scale": {"domain": [-1.09, 17.09], "nice": false, "zero": false}, "axis": {"orient": "bottom", "values": [0,1,2,3,4,5,6,7,8,9,10,11,12,13,14,15,16], "labelExpr": "['I','II','III','IV'][datum.value % 4]", "labelFont": "Roboto", "labelFontSize": 17, "labelFontWeight": "bold", "labelColor": "#222", "labelPadding": 19, "labelBaseline": "middle", "labelFlush": false, "labelOverlap": false, "labelBound": false, "ticks": false, "tickSize": 0, "grid": false, "domain": true, "domainColor": "#555", "domainWidth": 2, "title": null}},
  "y": {"field": "v", "type": "quantitative", "scale": {"domain": [50, 120], "nice": false, "zero": false}, "axis": {"orient": "left", "values": [50,60,70,80,90,100,110,120], "grid": true, "gridColor": {"condition": {"test": "datum.value === 100", "value": "#444"}, "value": "#b5dec2"}, "gridWidth": 1.5, "domain": false, "ticks": false, "tickSize": 0, "labels": false, "title": null}}
 }},
{"data": {"values": [{}]}, "mark": {"type": "rect", "color": "#3cb68a"}, "encoding": {"x": {"datum": 0, "type": "quantitative", "axis": null}, "x2": {"datum": 3.13}, "y": {"datum": 110.5, "type": "quantitative", "axis": null}, "y2": {"datum": 101.01}}},
{"data": {"values": [{}]}, "mark": {"type": "point", "shape": "M0,-1L0,14L11,-1Z", "size": 4, "filled": true, "opacity": 1, "color": "#3cb68a"}, "encoding": {"x": {"datum": 0, "type": "quantitative", "axis": null}, "y": {"datum": 101.01, "type": "quantitative", "axis": null}}},
{"data": {"values": [{}]}, "mark": {"type": "text", "text": "94", "font": "Open Sans", "fontSize": 24, "fontWeight": "bold", "color": "#ffffff", "align": "center", "baseline": "middle"}, "encoding": {"x": {"datum": 1.57, "type": "quantitative", "axis": null}, "y": {"datum": 105.76, "type": "quantitative", "axis": null}}},
{"data": {"values": [{}]}, "mark": {"type": "rect", "color": "#3cb68a"}, "encoding": {"x": {"datum": 12.87, "type": "quantitative", "axis": null}, "x2": {"datum": 16}, "y": {"datum": 121.09, "type": "quantitative", "axis": null}, "y2": {"datum": 111.86}}},
{"data": {"values": [{}]}, "mark": {"type": "point", "shape": "M0,-1L0,17L-11,-1Z", "size": 4, "filled": true, "opacity": 1, "color": "#3cb68a"}, "encoding": {"x": {"datum": 16, "type": "quantitative", "axis": null}, "y": {"datum": 111.86, "type": "quantitative", "axis": null}}},
{"data": {"values": [{}]}, "mark": {"type": "text", "text": "105", "font": "Open Sans", "fontSize": 24, "fontWeight": "bold", "color": "#ffffff", "align": "center", "baseline": "middle"}, "encoding": {"x": {"datum": 14.43, "type": "quantitative", "axis": null}, "y": {"datum": 116.47, "type": "quantitative", "axis": null}}},
{"data": {"name": "qtr"}, "transform": [{"filter": "datum.q === 'I'"}], "mark": {"type": "text", "dy": 42, "font": "Open Sans", "fontSize": 20.5, "color": "#222", "align": "center", "baseline": "middle"}, "encoding": {"x": {"field": "i", "type": "quantitative", "axis": null}, "y": {"datum": 50, "type": "quantitative", "axis": null}, "text": {"field": "year"}}},
{"data": {"values": [{}]}, "mark": {"type": "text", "text": "iwd", "align": "right", "baseline": "alphabetic", "font": "DejaVu Serif", "fontSize": 30, "fontWeight": "bold", "color": "#111"}, "encoding": {"x": {"datum": 17.45, "type": "quantitative", "axis": null}, "y": {"datum": 23.15, "type": "quantitative", "axis": null}}}
]
}
]
}
